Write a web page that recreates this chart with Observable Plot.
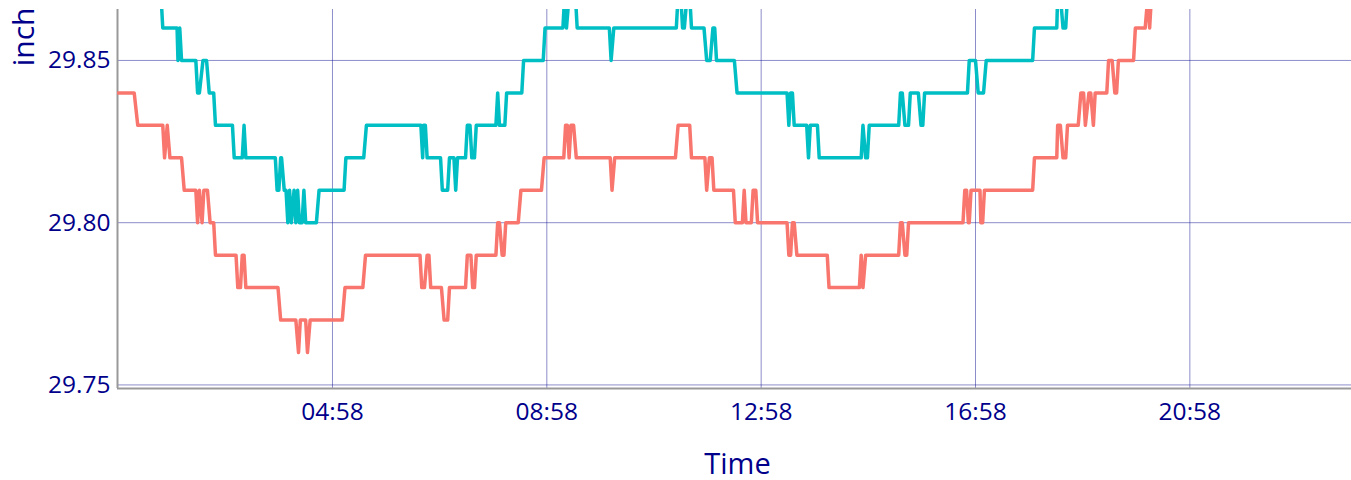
<!DOCTYPE html>
<html>
<head>
<meta charset="utf-8">
<script src="https://cdn.jsdelivr.net/npm/d3@7"></script>
<script src="https://cdn.jsdelivr.net/npm/@observablehq/plot@0.6"></script>
<style>
  html, body { margin: 0; padding: 0; background: #fff; }
  #chart svg { display: block; }
</style>
</head>
<body>
<div id="chart"></div>
<script>
// ---- data (minutes after midnight, pressure in inch) ----
const seriesNames = ["A", "B"];
const seriesColors = ["#F8766D", "#00BFC4"];

const salmonMinutes = [58,76,80,108,110,113,116,129,132,145,147,149,152,154,158,161,165,167,190,192,195,197,199,201,237,240,257,260,262,268,270,273,309,312,332,335,396,398,401,404,406,408,420,423,427,429,447,449,453,455,457,459,481,483,485,488,490,492,506,509,532,535,557,559,561,563,565,568,571,609,611,614,682,685,698,700,715,717,720,723,725,747,749,757,759,761,767,769,772,774,807,809,811,813,815,818,852,854,888,890,892,895,932,934,936,939,941,943,1004,1006,1008,1010,1011,1013,1023,1024,1026,1028,1082,1084,1109,1110,1113,1116,1119,1121,1133,1136,1139,1141,1145,1147,1150,1152,1165,1167,1171,1174,1176,1178,1195,1197,1208,1211,1213,1215];
const salmonValues = [29.84,29.84,29.83,29.83,29.82,29.83,29.82,29.82,29.81,29.81,29.80,29.81,29.80,29.81,29.81,29.80,29.80,29.79,29.79,29.78,29.78,29.79,29.79,29.78,29.78,29.77,29.77,29.76,29.77,29.77,29.76,29.77,29.77,29.78,29.78,29.79,29.79,29.78,29.78,29.79,29.79,29.78,29.78,29.77,29.77,29.78,29.78,29.79,29.79,29.78,29.78,29.79,29.79,29.80,29.80,29.79,29.79,29.80,29.80,29.81,29.81,29.82,29.82,29.83,29.83,29.82,29.83,29.83,29.82,29.82,29.81,29.82,29.82,29.83,29.83,29.82,29.82,29.81,29.82,29.82,29.81,29.81,29.80,29.80,29.81,29.80,29.80,29.81,29.81,29.80,29.80,29.79,29.79,29.80,29.80,29.79,29.79,29.78,29.78,29.79,29.78,29.79,29.79,29.80,29.80,29.79,29.79,29.80,29.80,29.81,29.81,29.80,29.80,29.81,29.81,29.80,29.80,29.81,29.81,29.82,29.82,29.83,29.83,29.82,29.82,29.83,29.83,29.84,29.84,29.83,29.84,29.84,29.83,29.84,29.84,29.85,29.85,29.84,29.84,29.85,29.85,29.86,29.86,29.87,29.86,29.87];

const tealMinutes = [58,106,108,124,125,127,129,145,147,149,153,157,160,165,167,186,188,197,199,201,234,236,238,240,241,244,246,248,250,252,255,257,259,261,264,266,268,280,283,311,313,333,336,397,399,400,402,404,419,421,427,429,434,436,438,447,449,452,454,457,459,481,483,485,491,493,510,512,534,536,556,558,560,563,570,572,608,610,613,683,685,688,690,692,695,698,700,714,717,721,724,726,728,748,751,807,809,811,813,815,829,831,833,841,843,890,892,895,897,899,932,934,936,939,943,945,954,957,959,961,1009,1011,1018,1021,1027,1030,1082,1084,1109,1110,1113,1116,1119,1121,1215];
const tealValues = [29.87,29.87,29.86,29.86,29.85,29.86,29.85,29.85,29.84,29.84,29.85,29.85,29.84,29.84,29.83,29.83,29.82,29.82,29.83,29.82,29.82,29.81,29.81,29.82,29.82,29.81,29.81,29.80,29.81,29.80,29.81,29.80,29.81,29.80,29.80,29.81,29.80,29.80,29.81,29.81,29.82,29.82,29.83,29.83,29.82,29.83,29.83,29.82,29.82,29.81,29.81,29.82,29.82,29.81,29.82,29.82,29.83,29.83,29.82,29.82,29.83,29.83,29.84,29.83,29.83,29.84,29.84,29.85,29.85,29.86,29.86,29.87,29.86,29.87,29.87,29.86,29.86,29.85,29.86,29.86,29.87,29.87,29.86,29.86,29.87,29.87,29.86,29.86,29.85,29.85,29.86,29.86,29.85,29.85,29.84,29.84,29.83,29.84,29.84,29.83,29.83,29.82,29.83,29.83,29.82,29.82,29.83,29.82,29.82,29.83,29.83,29.84,29.84,29.83,29.83,29.84,29.84,29.83,29.83,29.84,29.84,29.85,29.85,29.84,29.84,29.85,29.85,29.86,29.86,29.87,29.87,29.86,29.86,29.87,29.88];

const xTickLabels = ["04:58", "08:58", "12:58", "16:58", "20:58"];
const xDomainMinutes = [57.3, 1439];
const yTicks = [29.75, 29.80, 29.85];
const yDomain = [29.7489, 29.8657];

// ---- build table ----
const base = Date.UTC(2021, 0, 1);
const toDate = m => new Date(base + m * 60000);
const hhmm = s => { const [h, m] = s.split(":").map(Number); return h * 60 + m; };

const rows = [];
salmonMinutes.forEach((m, i) => rows.push({time: toDate(m), value: salmonValues[i], series: seriesNames[0]}));
tealMinutes.forEach((m, i) => rows.push({time: toDate(m), value: tealValues[i], series: seriesNames[1]}));

const xTicks = xTickLabels.map(s => toDate(hhmm(s)));
const navy = "#00008B";

const chart = Plot.plot({
  width: 1351,
  height: 480,
  marginLeft: 117,
  marginRight: 0,
  marginTop: 9,
  marginBottom: 92,
  style: {fontFamily: "'Open Sans', 'Noto Sans', sans-serif", color: navy, background: "white", overflow: "visible"},
  x: {type: "utc", domain: xDomainMinutes.map(toDate)},
  y: {domain: yDomain},
  color: {domain: seriesNames, range: seriesColors},
  marks: [
    Plot.gridX(xTicks, {stroke: navy, strokeOpacity: 0.45, strokeWidth: 1}),
    Plot.gridY(yTicks, {stroke: navy, strokeOpacity: 0.45, strokeWidth: 1}),
    Plot.ruleX([toDate(xDomainMinutes[0])], {stroke: "#999999", strokeWidth: 2}),
    Plot.ruleY([yDomain[0]], {stroke: "#999999", strokeWidth: 2}),
    Plot.line(rows, {x: "time", y: "value", z: "series", stroke: "series", strokeWidth: 3.5, clip: true}),
    Plot.axisX({ticks: xTicks, tickFormat: d3.utcFormat("%H:%M"), tickSize: 0, tickPadding: 14, fontSize: 24.5, label: null}),
    Plot.axisY({ticks: yTicks, tickFormat: d3.format(".2f"), tickSize: 0, tickPadding: 7, fontSize: 24.5, label: null}),
    Plot.text(["Time"], {text: d => d, frameAnchor: "bottom", lineAnchor: "bottom", dx: 3, dy: 85, fontSize: 29}),
    Plot.text(["inch"], {text: d => d, frameAnchor: "top-left", rotate: -90, textAnchor: "end", lineAnchor: "middle", dx: -93, dy: -2, fontSize: 30})
  ]
});
document.getElementById("chart").appendChild(chart);
</script>
</body>
</html>
